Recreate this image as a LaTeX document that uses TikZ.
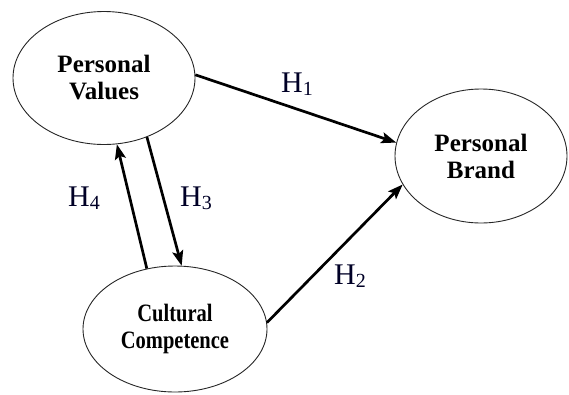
\documentclass[tikz,border=0pt]{standalone}
\usepackage{fontspec}
\setmainfont{Liberation Serif}
\usetikzlibrary{shapes.geometric,arrows.meta}
\tikzset{
  construct/.style={ellipse, draw=black!85, line width=0.9pt, inner sep=0pt, align=center,
    font=\fontsize{25}{27}\selectfont\bfseries},
  hyp/.style={line width=2.7pt, -{Stealth[length=15pt,width=11pt,inset=3pt]}},
  hlabel/.style={font=\fontsize{30}{32}\selectfont, text=black!85!blue}
}
\newcommand{\hsub}[1]{H\raisebox{-0.2ex}{\fontsize{20}{20}\selectfont #1}}
\begin{document}
\begin{tikzpicture}[x=1pt,y=-1pt]
\useasboundingbox (0,0) rectangle (569,394);
\node[construct, minimum width=182pt, minimum height=133pt] (pv) at (104,78) {\scalebox{1.0}[1]{Personal}\\Values};
\node[construct, minimum width=172pt, minimum height=134pt] (pb) at (481,156) {Personal\\Brand};
\node[construct, minimum width=184pt, minimum height=126pt] (cc) at (175,329) {\scalebox{0.82}[1]{Cultural}\\\scalebox{0.82}[1]{Competence}};
\draw[hyp] (pv.2) -- (pb.171);
\draw[hyp] (cc.4) -- (pb.200);
\draw[hyp] (pv.306) -- (cc.84);
\draw[hyp] (cc.115) -- (pv.281);
\node[hlabel] (h1) at (297,84) {\hsub{1}};
\node[hlabel] (h2) at (350,276) {\hsub{2}};
\node[hlabel] (h3) at (196,198) {\hsub{3}};
\node[hlabel] (h4) at (84,198) {\hsub{4}};
\end{tikzpicture}
\end{document}
